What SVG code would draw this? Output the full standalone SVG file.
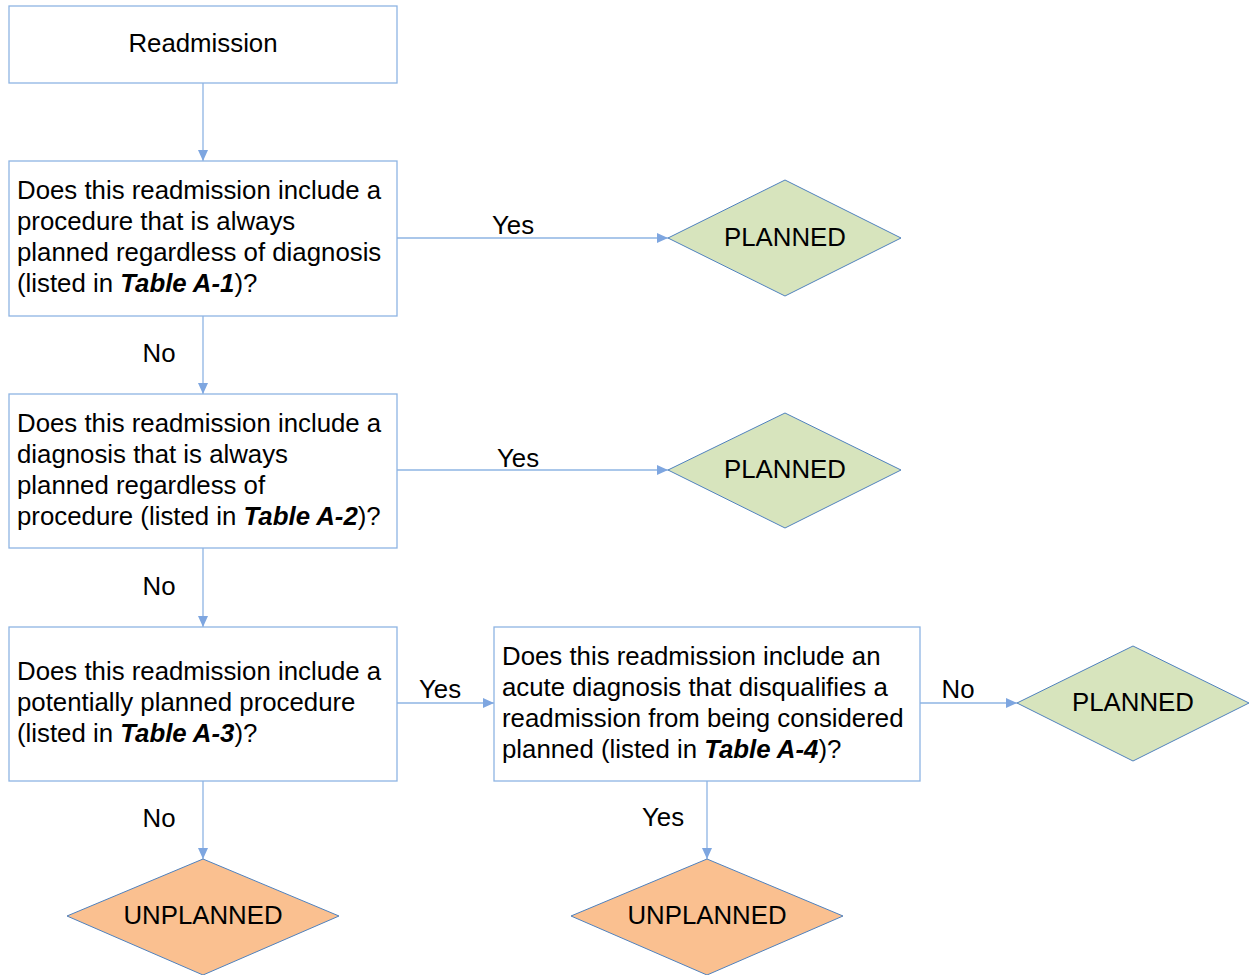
<svg xmlns="http://www.w3.org/2000/svg" width="1249" height="975" viewBox="0 0 1249 975">
<style>
text{font-family:"Liberation Sans",Arial,sans-serif;font-size:25.8px;fill:#000}
.box{fill:#fff;stroke:#8eb4e3;stroke-width:1.3}
.dp{fill:#d7e4bd;stroke:#4f81bd;stroke-width:1}
.du{fill:#fac090;stroke:#4f81bd;stroke-width:1}
.c{stroke:#8eb4e3;stroke-width:1.3;fill:none;marker-end:url(#ah)}
.m{text-anchor:middle}
.b{font-weight:bold;font-style:italic}
</style>
<defs>
<marker id="ah" markerWidth="11" markerHeight="10" refX="11" refY="5" orient="auto" markerUnits="userSpaceOnUse">
<path d="M0,0 L11,5 L0,10 Z" fill="#7ea6e0"/>
</marker>
</defs>
<rect width="1249" height="975" fill="#fff"/>
<g id="connectors">
<path class="c" d="M203,83 V161"/>
<path class="c" d="M397,238 H668"/>
<path class="c" d="M203,316 V394"/>
<path class="c" d="M397,470 H668"/>
<path class="c" d="M203,548 V627"/>
<path class="c" d="M397,703 H494"/>
<path class="c" d="M920,703 H1017"/>
<path class="c" d="M203,781 V859"/>
<path class="c" d="M707,781 V859"/>
<text class="m" x="513" y="234">Yes</text>
<text class="m" x="159" y="362">No</text>
<text class="m" x="518" y="467">Yes</text>
<text class="m" x="159" y="595">No</text>
<text class="m" x="440" y="698">Yes</text>
<text class="m" x="958" y="698">No</text>
<text class="m" x="159" y="827">No</text>
<text class="m" x="663" y="826">Yes</text>
</g>
<g id="n_readmission">
<rect class="box" x="9" y="6" width="388" height="77"/>
<text class="m" x="203" y="52">Readmission</text>
</g>
<g id="n_q1">
<rect class="box" x="9" y="161" width="388" height="155"/>
<text x="17" y="199">Does this readmission include a</text>
<text x="17" y="230">procedure that is always</text>
<text x="17" y="261">planned regardless of diagnosis</text>
<text x="17" y="292">(listed in <tspan class="b">Table A-1</tspan>)?</text>
</g>
<g id="n_planned1">
<polygon class="dp" points="785,180 901,238 785,296 668,238"/>
<text class="m" x="785" y="246">PLANNED</text>
</g>
<g id="n_q2">
<rect class="box" x="9" y="394" width="388" height="154"/>
<text x="17" y="432">Does this readmission include a</text>
<text x="17" y="463">diagnosis that is always</text>
<text x="17" y="494">planned regardless of</text>
<text x="17" y="525">procedure (listed in <tspan class="b">Table A-2</tspan>)?</text>
</g>
<g id="n_planned2">
<polygon class="dp" points="785,413 901,470 785,528 668,470"/>
<text class="m" x="785" y="478">PLANNED</text>
</g>
<g id="n_q3">
<rect class="box" x="9" y="627" width="388" height="154"/>
<text x="17" y="680">Does this readmission include a</text>
<text x="17" y="711">potentially planned procedure</text>
<text x="17" y="742">(listed in <tspan class="b">Table A-3</tspan>)?</text>
</g>
<g id="n_q4">
<rect class="box" x="494" y="627" width="426" height="154"/>
<text x="502" y="665">Does this readmission include an</text>
<text x="502" y="696">acute diagnosis that disqualifies a</text>
<text x="502" y="727">readmission from being considered</text>
<text x="502" y="758">planned (listed in <tspan class="b">Table A-4</tspan>)?</text>
</g>
<g id="n_planned3">
<polygon class="dp" points="1133,646 1249,703 1133,761 1017,703"/>
<text class="m" x="1133" y="711">PLANNED</text>
</g>
<g id="n_unplanned1">
<polygon class="du" points="203,859 339,916 203,975 67,916"/>
<text class="m" x="203" y="924">UNPLANNED</text>
</g>
<g id="n_unplanned2">
<polygon class="du" points="707,859 843,916 707,975 571,916"/>
<text class="m" x="707" y="924">UNPLANNED</text>
</g>
</svg>
